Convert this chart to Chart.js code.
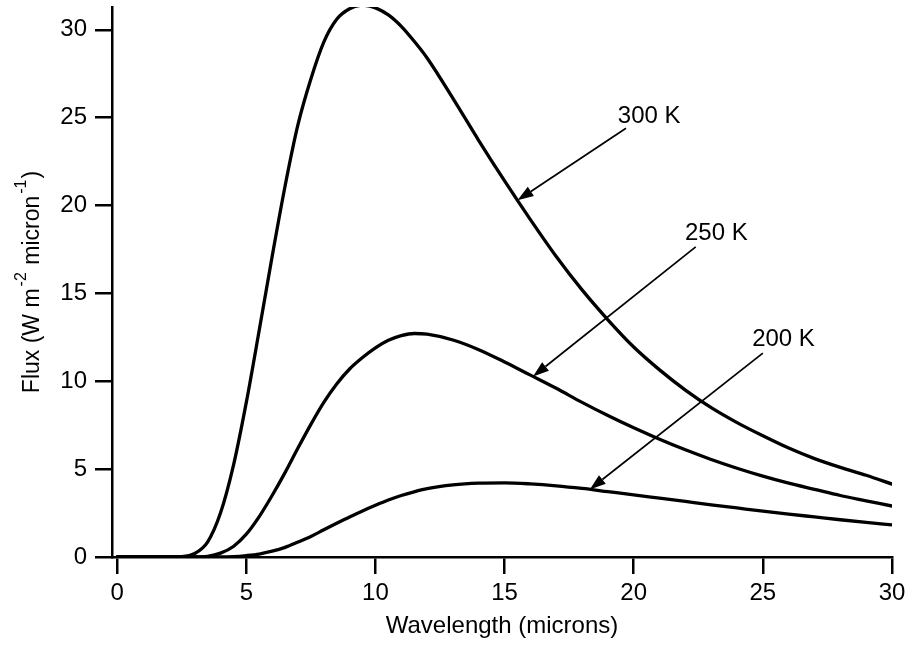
<!DOCTYPE html>
<html>
<head>
<meta charset="utf-8">
<script src="https://cdn.jsdelivr.net/npm/chart.js@4.4.1/dist/chart.umd.min.js"></script>
<style>
  html, body { margin: 0; padding: 0; background: #ffffff; }
  #wrap { width: 909px; height: 646px; }
  canvas { display: block; }
</style>
</head>
<body>
<div id="wrap"><canvas id="c" width="909" height="646"></canvas></div>
<script>
// ---- data ----
const wavelengths = [0, 1, 2, 2.5, 3, 3.5, 4, 4.5, 5, 5.5, 6, 6.5, 7, 7.5, 8, 8.5, 9, 9.5, 10, 10.5, 11, 11.5, 12,
  13, 14, 15, 16, 17, 18, 19, 20, 21, 22, 23, 24, 25, 26, 27, 28, 29, 30];

const flux300K = [0, 0, 0, 0.02, 0.2, 0.85, 2.5, 5.2, 8.8, 12.9, 17.1, 21.1, 24.6, 27.2, 29.3, 30.6, 31.2, 31.4, 31.25, 30.85, 30.2, 29.35, 28.4,
  26.1, 23.7, 21.4, 19.2, 17.1, 15.2, 13.5, 11.95, 10.65, 9.5, 8.5, 7.65, 6.9, 6.2, 5.6, 5.1, 4.65, 4.15];

const flux250K = [0, 0, 0, 0, 0, 0.04, 0.22, 0.6, 1.3, 2.3, 3.5, 4.8, 6.2, 7.55, 8.8, 9.85, 10.7, 11.35, 11.9, 12.33, 12.6, 12.72, 12.68,
  12.35, 11.8, 11.1, 10.35, 9.6, 8.8, 8.05, 7.35, 6.7, 6.1, 5.55, 5.05, 4.6, 4.2, 3.85, 3.5, 3.2, 2.9];

const flux200K = [0, 0, 0, 0, 0, 0, 0, 0.02, 0.08, 0.17, 0.33, 0.55, 0.85, 1.17, 1.55, 1.92, 2.28, 2.62, 2.94, 3.24, 3.5, 3.71, 3.89,
  4.1, 4.2, 4.22, 4.16, 4.05, 3.9, 3.72, 3.54, 3.35, 3.16, 2.97, 2.79, 2.61, 2.44, 2.28, 2.12, 1.97, 1.83];

const seriesNames = ['300 K', '250 K', '200 K'];
const xTickValues = [0, 5, 10, 15, 20, 25, 30];
const yTickValues = [0, 5, 10, 15, 20, 25, 30];
const xTitle = 'Wavelength (microns)';
// y title pieces: [text, isSuperscript]
const yTitleParts = [['Flux (W m', false], ['-2', true], [' micron', false], ['-1', true], [')', false]];

// callouts: label position and arrow start in data units; arrow tip lands on the curve at tipX
const callouts = [
  { series: 0, labelX: 20.6, labelY: 25.1, fromX: 19.7, fromY: 24.4, tipX: 15.5 },
  { series: 1, labelX: 23.2, labelY: 18.4, fromX: 22.4, fromY: 17.65, tipX: 16.1 },
  { series: 2, labelX: 25.8, labelY: 12.4, fromX: 25.0, fromY: 11.6, tipX: 18.3 }
];

const FONT = 'Liberation Sans, Arial, Helvetica, sans-serif';
const allSeries = [flux300K, flux250K, flux200K];

function toPoints(vals) {
  return wavelengths.map((w, i) => ({ x: w, y: vals[i] }));
}

function valueAt(vals, x) {
  for (let i = 0; i < wavelengths.length - 1; i++) {
    const a = wavelengths[i], b = wavelengths[i + 1];
    if (x >= a && x <= b) {
      const t = (x - a) / (b - a);
      return vals[i] + t * (vals[i + 1] - vals[i]);
    }
  }
  return vals[vals.length - 1];
}

const calloutPlugin = {
  id: 'callouts',
  afterDatasetsDraw(chart) {
    const ctx = chart.ctx;
    const xs = chart.scales.x, ys = chart.scales.y;
    ctx.save();
    callouts.forEach(c => {
      const vals = allSeries[c.series];
      const x0 = xs.getPixelForValue(c.fromX), y0 = ys.getPixelForValue(c.fromY);
      const x1 = xs.getPixelForValue(c.tipX), y1 = ys.getPixelForValue(valueAt(vals, c.tipX));
      const ang = Math.atan2(y1 - y0, x1 - x0);
      const headLen = 16, headW = 5.5;
      const bx = x1 - headLen * Math.cos(ang), by = y1 - headLen * Math.sin(ang);
      ctx.strokeStyle = '#000';
      ctx.lineWidth = 1.7;
      ctx.beginPath();
      ctx.moveTo(x0, y0);
      ctx.lineTo(bx, by);
      ctx.stroke();
      ctx.fillStyle = '#000';
      ctx.beginPath();
      ctx.moveTo(x1, y1);
      ctx.lineTo(bx + headW * Math.sin(ang), by - headW * Math.cos(ang));
      ctx.lineTo(bx - headW * Math.sin(ang), by + headW * Math.cos(ang));
      ctx.closePath();
      ctx.fill();
      ctx.font = '24px ' + FONT;
      ctx.textAlign = 'center';
      ctx.textBaseline = 'middle';
      ctx.fillText(seriesNames[c.series], xs.getPixelForValue(c.labelX), ys.getPixelForValue(c.labelY));
    });

    // y-axis title with real superscripts
    const mainSize = 23, supSize = 16;
    ctx.translate(33, (chart.chartArea.top + chart.chartArea.bottom) / 2);
    ctx.rotate(-Math.PI / 2);
    ctx.textBaseline = 'middle';
    ctx.textAlign = 'left';
    let total = 0;
    yTitleParts.forEach(([t, sup]) => {
      ctx.font = (sup ? supSize : mainSize) + 'px ' + FONT;
      total += ctx.measureText(t).width + (sup ? 3 : 0);
    });
    let x = -total / 2;
    yTitleParts.forEach(([t, sup]) => {
      ctx.font = (sup ? supSize : mainSize) + 'px ' + FONT;
      if (sup) x += 2;
      ctx.fillText(t, x, sup ? -11 : 0);
      x += ctx.measureText(t).width + (sup ? 1 : 0);
    });
    ctx.restore();
  }
};

const ds = (i) => ({
  label: seriesNames[i],
  data: toPoints(allSeries[i]),
  borderColor: '#000',
  borderWidth: 3.3,
  pointRadius: 0,
  fill: false,
  cubicInterpolationMode: 'monotone',
  borderCapStyle: 'round',
  borderJoinStyle: 'round'
});

new Chart(document.getElementById('c'), {
  type: 'line',
  data: { datasets: [ds(0), ds(1), ds(2)] },
  plugins: [calloutPlugin],
  options: {
    responsive: false,
    animation: false,
    devicePixelRatio: 1,
    layout: { padding: { top: 7, right: 17, left: 0, bottom: 0 } },
    plugins: { legend: { display: false }, tooltip: { enabled: false } },
    scales: {
      x: {
        type: 'linear',
        min: -0.2,
        max: 30,
        afterBuildTicks: s => { s.ticks = xTickValues.map(v => ({ value: v })); },
        afterFit: s => { s.height = 89; s.paddingLeft = 0; s.paddingRight = 0; },
        border: { display: true, color: '#000', width: 2.5 },
        grid: { display: true, drawOnChartArea: false, drawTicks: true, tickLength: 17, color: '#000', lineWidth: 2.5 },
        ticks: { color: '#000', font: { family: FONT, size: 24 }, padding: 5, maxRotation: 0 },
        title: { display: true, text: xTitle, color: '#000', font: { family: FONT, size: 24 }, padding: { top: 0, bottom: 5 } }
      },
      y: {
        type: 'linear',
        min: 0,
        max: 31.3,
        afterBuildTicks: s => { s.ticks = yTickValues.map(v => ({ value: v })); },
        afterFit: s => { s.width = 112; s.paddingTop = 0; s.paddingBottom = 0; },
        border: { display: true, color: '#000', width: 2.5 },
        grid: { display: true, drawOnChartArea: false, drawTicks: true, tickLength: 17, color: '#000', lineWidth: 2.5 },
        ticks: { color: '#000', font: { family: FONT, size: 24 }, padding: 8 },
        title: { display: false }
      }
    }
  }
});
</script>
</body>
</html>
